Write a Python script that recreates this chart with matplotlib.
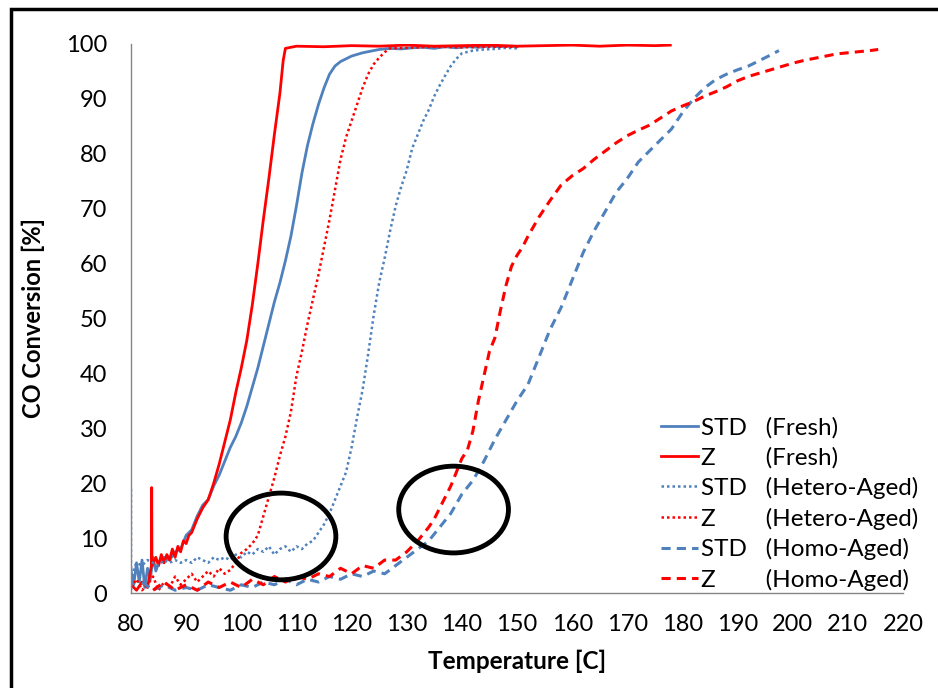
"""
CO conversion light-off curves: STD vs Z catalyst, fresh / hetero-aged / homo-aged.
"""

import matplotlib
matplotlib.use("Agg")
import matplotlib.pyplot as plt
from matplotlib.patches import Ellipse, Rectangle

plt.rcParams["font.family"] = ["Lato", "DejaVu Sans"]

c_blue = "#4F81BD"
c_red = "#FF0000"
c_axis = "#868686"

# ------------------------------------------------------------------ #
#                     Data                    #
# ------------------------------------------------------------------ #
std_fresh_t = [80, 80.5, 81, 81.5, 82, 82.5, 83, 83.5, 84, 84.5,
               85, 86, 87, 88, 89, 90, 91, 92, 93, 94,
               95, 96, 97, 98, 99, 100, 101, 102, 103, 104,
               105, 106, 107, 108, 109, 110, 111, 112, 113, 114,
               115, 116, 117, 118, 119, 120, 121, 122, 123, 124,
               125, 127, 129, 131, 133, 135, 137, 139, 141, 143,
               145, 147, 149, 150]
std_fresh_co = [4, 1.5, 5.5, 2, 6, 1, 4.5, 2.5, 6.5, 4,
                5.5, 6.5, 6, 7.5, 8, 10.5, 11.5, 14, 16, 17,
                19.5, 21.5, 24, 26.5, 28.5, 31, 34, 37.5, 41, 45,
                49, 53, 56.5, 60.5, 65, 70.5, 76.5, 81.5, 85.5, 89,
                92, 94.5, 96, 96.8, 97.3, 97.8, 98.1, 98.4, 98.6, 98.8,
                99, 99.2, 99.1, 99.3, 99.4, 99.2, 99.5, 99.3, 99.5, 99.4,
                99.6, 99.5, 99.6, 99.5]

z_fresh_t = [80, 81, 82, 83, 83.7, 83.75, 83.8, 84.5, 85, 85.5,
             86, 86.5, 87, 87.5, 88, 88.5, 89, 89.5, 90, 90.5,
             91, 92, 93, 94, 95, 96, 97, 98, 99, 100,
             101, 102, 103, 104, 105, 106, 107, 107.6, 108, 110,
             115, 120, 125, 130, 135, 140, 145, 150, 155, 160,
             165, 170, 175, 177.8]
z_fresh_co = [1.5, 0.5, 2, 1, 5, 19.2, 5, 6.5, 5, 7,
              5.5, 7, 6, 8, 6.5, 8.5, 7.5, 9.5, 9, 10.5,
              11, 13.5, 15.5, 17, 20, 23.5, 27.5, 31.5, 36.5, 41,
              46, 52.5, 60, 68, 75.5, 83.5, 91, 97, 99.2, 99.6,
              99.5, 99.7, 99.6, 99.8, 99.6, 99.7, 99.8, 99.6, 99.7, 99.8,
              99.6, 99.8, 99.7, 99.8]

std_het_t = [80, 80, 80.5, 81, 82, 83, 84, 85, 86, 87,
             88, 89, 90, 91, 92, 93, 94, 95, 96, 97,
             98, 99, 100, 101, 102, 103, 104, 105, 106, 107,
             108, 109, 110, 111, 112, 113, 114, 115, 116, 117,
             118, 119, 120, 121, 122, 123, 124, 125, 126, 127,
             128, 129, 130, 131, 132, 133, 134, 135, 136, 137,
             138, 139, 140, 142, 144, 146, 148, 150]
std_het_co = [19, 0.5, 4.5, 5.5, 5, 6, 5.5, 5, 6, 5.5,
              6, 5.5, 6, 5.5, 6.5, 6, 5.5, 6.5, 6, 6.5,
              6, 7, 6.5, 7.5, 7, 8, 7.5, 8.5, 7, 8,
              8.5, 7.5, 8.5, 8, 9, 9.5, 11, 12.5, 14.5, 17,
              19.5, 22, 26.5, 32, 37, 43.5, 50.5, 56.5, 61, 66,
              70.5, 74, 77, 81, 83.5, 86, 88, 90.5, 92.5, 94.3,
              96, 97.3, 98.3, 98.8, 99, 99.1, 99.3, 99.2]

z_het_t = [80, 81, 82, 83, 84, 85, 86, 87, 88, 89,
           90, 91, 92, 93, 94, 95, 96, 97, 98, 99,
           100, 101, 102, 103, 104, 105, 106, 107, 108, 109,
           110, 111, 112, 113, 114, 115, 116, 117, 118, 119,
           120, 121, 122, 123, 124, 125, 126, 127, 130, 135,
           140, 145, 150]
z_het_co = [1, 2.5, 0.5, 1.5, 3, 0.5, 2, 1, 3, 1.5,
            2.5, 3.5, 2, 3, 4, 3, 4.5, 3.5, 4.2, 5.5,
            7.3, 8, 9, 10.5, 14, 17.5, 21, 25, 28.5, 33,
            39.5, 44, 49, 53.5, 58, 63, 68, 73.5, 79, 83,
            86, 89, 92, 94.5, 96.3, 97.5, 98.5, 99.2, 99.3, 99.5,
            99.4, 99.5, 99.5]

std_homo_t = [82, 84, 86, 88, 90, 92, 94, 96, 98, 100,
              102, 104, 106, 108, 110, 112, 114, 116, 118, 120,
              122, 124, 126, 128, 130, 132, 134, 136, 138, 140,
              142, 144, 146, 148, 150, 152, 154, 156, 158, 160,
              162, 164, 166, 168, 170, 172, 174, 176, 178, 180,
              182, 184, 186, 188, 190, 192, 194, 196, 197.5]
std_homo_co = [2, 0.5, 1.5, 0.5, 1, 0.5, 1.5, 1, 0.5, 1.5,
               1, 2, 1.5, 2.5, 1.5, 2.5, 2, 3, 2.5, 3.5,
               3, 4, 3.5, 5, 6.5, 8, 9.5, 12, 14.5, 18,
               20.5, 24, 28, 31.5, 35, 38, 43, 48, 52, 57,
               62, 66, 69.5, 73, 75.5, 78.5, 80.5, 82.5, 84.5, 87.5,
               90, 92, 93.5, 94.5, 95.3, 96, 97, 98, 98.8]

z_homo_t = [84, 86, 88, 90, 92, 94, 96, 98, 100, 102,
            104, 106, 108, 110, 112, 114, 116, 118, 120, 122,
            124, 126, 128, 130, 132, 134, 135, 136, 137, 138,
            139, 140, 141, 142, 143, 144, 145, 146, 147, 148,
            149, 150, 151, 152, 154, 156, 158, 160, 162, 164,
            166, 168, 170, 172, 174, 176, 178, 180, 182, 184,
            186, 188, 190, 192, 194, 196, 198, 200, 202, 204,
            206, 208, 210, 212, 214, 215.5]
z_homo_co = [0.5, 2, 0.5, 1.5, 0.5, 2, 1, 2, 1, 2.5,
             1.5, 3, 2, 3, 2.5, 3.5, 3, 4.5, 3.5, 5,
             4.5, 6, 6, 7.5, 9.5, 12, 13.5, 15.5, 17.5, 19.5,
             22, 24.5, 26, 29.5, 35, 39.5, 44, 46.5, 51.5, 56,
             59.5, 61.5, 63, 65, 68.5, 71.5, 74.3, 76, 77.3, 79,
             80.5, 82, 83.3, 84.3, 85.2, 86.5, 87.8, 88.7, 89.5, 90.5,
             91.3, 92.2, 93.3, 94.1, 94.7, 95.3, 95.9, 96.5, 97, 97.4,
             97.8, 98.2, 98.4, 98.6, 98.8, 99]

labels = ["STD   (Fresh)", "Z        (Fresh)",
          "STD   (Hetero-Aged)", "Z        (Hetero-Aged)",
          "STD   (Homo-Aged)", "Z        (Homo-Aged)"]

# highlighted regions (center temp, center conversion)
circle_centers = [(107.2, 10.3), (138.5, 15.2)]

# ------------------------------------------------------------------ #
#                               Plot                                 #
# ------------------------------------------------------------------ #
fig = plt.figure(figsize=(9.38, 6.88), dpi=100)
ax = fig.add_axes([131 / 938, 95 / 688, 772 / 938, 549 / 688])

dot = (0, (1, 1.2))
dash = (0, (3, 2))
ax.plot(std_fresh_t, std_fresh_co, color=c_blue, lw=2.0, label=labels[0])
ax.plot(z_fresh_t, z_fresh_co, color=c_red, lw=2.0, label=labels[1])
ax.plot(std_het_t, std_het_co, color=c_blue, lw=1.8, ls=dot, label=labels[2])
ax.plot(z_het_t, z_het_co, color=c_red, lw=1.8, ls=dot, label=labels[3])
ax.plot(std_homo_t, std_homo_co, color=c_blue, lw=2.2, ls=dash, label=labels[4])
ax.plot(z_homo_t, z_homo_co, color=c_red, lw=2.2, ls=dash, label=labels[5])

for cx, cy in circle_centers:
    ax.add_patch(Ellipse((cx, cy), 19.9, 15.8, fill=False, ec="black",
                         lw=3.5, zorder=6, clip_on=False))

ax.set_xlim(80, 220)
ax.set_ylim(0, 100)
ax.set_xticks(range(80, 221, 10))
ax.set_yticks(range(0, 101, 10))
ax.tick_params(length=0, labelsize=17)
ax.tick_params(axis="y", pad=17)
ax.tick_params(axis="x", pad=15)
for side in ["top", "right"]:
    ax.spines[side].set_visible(False)
for side in ["left", "bottom"]:
    ax.spines[side].set_color(c_axis)
    ax.spines[side].set_linewidth(1.0)

ax.set_xlabel("Temperature [C]", fontsize=17.5, fontweight="bold", labelpad=11)
ax.set_ylabel("CO Conversion [%]", fontsize=17, fontweight="bold", labelpad=15)

ax.legend(loc="upper left", bbox_to_anchor=(0.686, 0.321), frameon=False,
          borderpad=0, borderaxespad=0, handlelength=1.55, handletextpad=0.1,
          labelspacing=0.35, fontsize=17.5)

# outer frame of the original figure
fig.add_artist(Rectangle((11 / 938, -0.1), 1.2, 0.1 + 679 / 688,
                         transform=fig.transFigure, fill=False,
                         ec="black", lw=2.5))

plt.savefig("out.png", dpi=100)
